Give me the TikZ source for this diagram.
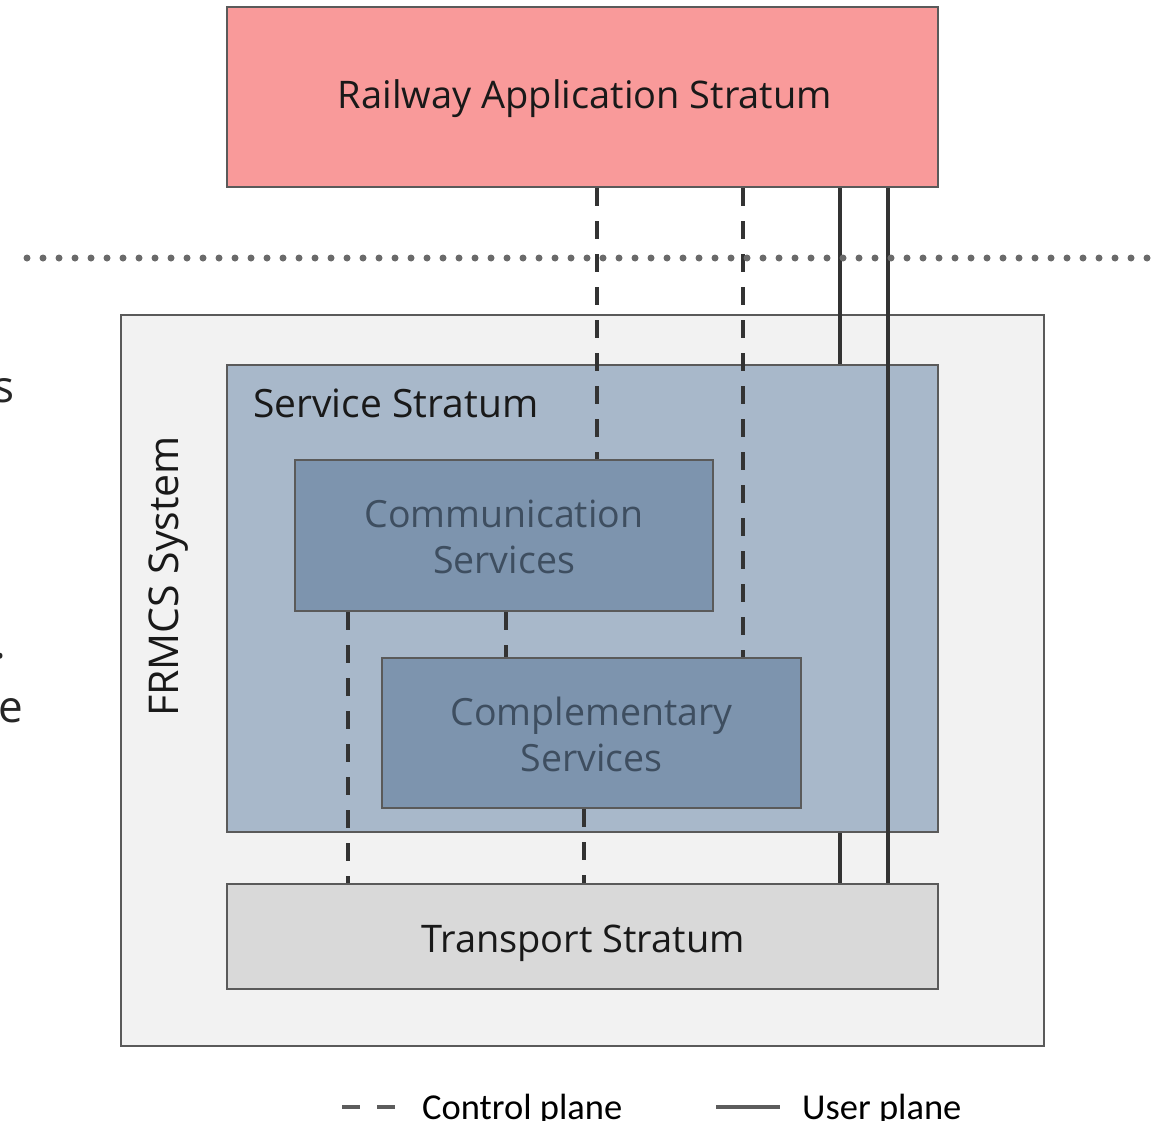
\documentclass[tikz,border=0pt]{standalone}
\usepackage{fontspec}
\setmainfont{Open Sans}
\newfontfamily\legendfont{Carlito}
\definecolor{railpink}{HTML}{F99A9A}
\definecolor{outerbg}{HTML}{F2F2F2}
\definecolor{servbg}{HTML}{A8B8CA}
\definecolor{innerbg}{HTML}{7D94AE}
\definecolor{innertext}{HTML}{3E4E60}
\definecolor{transbg}{HTML}{D9D9D9}
\definecolor{bordergray}{HTML}{5A5A5A}
\definecolor{linegray}{HTML}{333333}
\definecolor{dotgray}{HTML}{6A6A6A}
\begin{document}
\begin{tikzpicture}[x=1pt,y=-1pt,
  box/.style={draw=bordergray, line width=2.2pt, rectangle, inner sep=0pt},
  lbl/.style={font=\fontsize{38}{44}\selectfont, text=black!90, inner sep=0pt},
  innerlbl/.style={font=\fontsize{37.5}{44}\selectfont, text=innertext, inner sep=0pt, anchor=base},
  ctrl/.style={draw=linegray, line width=3.8pt, dash pattern=on 18pt off 15pt},
  userl/.style={draw=linegray, line width=3.4pt},
  dotline/.style={draw=dotgray, line width=7pt, line cap=round, dash pattern=on 0pt off 16pt},
  legend/.style={font=\legendfont\fontsize{36.5}{40}\selectfont, text=black, inner sep=0pt},
  frag/.style={font=\fontsize{44}{48}\selectfont, text=black!85, anchor=base east, inner sep=0pt}]
\useasboundingbox (0,0) rectangle (1156,1121);
% boxes
\node[box, fill=railpink, minimum width=711pt, minimum height=180pt] (rail) at (582.5,97) {};
\node[box, fill=outerbg, minimum width=923pt, minimum height=731pt] (frmcs) at (582.5,680.5) {};
\node[box, fill=servbg, minimum width=711pt, minimum height=467pt] (serv) at (582.5,598.5) {};
\node[box, fill=innerbg, minimum width=418pt, minimum height=151pt] (comm) at (504,535.5) {};
\node[box, fill=innerbg, minimum width=419pt, minimum height=150pt] (compl) at (591.5,733) {};
\node[box, fill=transbg, minimum width=711pt, minimum height=105pt] (trans) at (582.5,936.5) {};
% labels
\node[lbl, anchor=base] (raillbl) at (585,109) {Railway Application Stratum};
\node[lbl, anchor=base west, font=\fontsize{39}{44}\selectfont] (servlbl) at (253,417) {Service Stratum};
\node[innerlbl] (commlbl1) at (504,527) {Communication};
\node[innerlbl] (commlbl2) at (504,573) {Services};
\node[innerlbl] (compllbl1) at (591.5,725) {Complementary};
\node[innerlbl] (compllbl2) at (591.5,771) {Services};
\node[lbl, anchor=base] (translbl) at (583,952) {Transport Stratum};
\node[lbl, anchor=base, rotate=90, font=\fontsize{41}{44}\selectfont] (frmcslbl) at (178,576.5) {FRMCS System};
% x positions of connectors
\coordinate (xa) at (597,0);
\coordinate (xb) at (743,0);
\coordinate (xc) at (348,0);
\coordinate (xd) at (506,0);
\coordinate (xe) at (584,0);
\coordinate (xf) at (840,0);
\coordinate (xg) at (888,0);
% control plane
\draw[ctrl] (rail.south -| xa) -- (comm.north -| xa);
\draw[ctrl] (rail.south -| xb) -- (compl.north -| xb);
\draw[ctrl] (comm.south -| xc) -- (trans.north -| xc);
\draw[ctrl] (comm.south -| xd) -- (compl.north -| xd);
\draw[ctrl] (compl.south -| xe) -- (trans.north -| xe);
% user plane
\draw[userl] (rail.south -| xf) -- (serv.north -| xf);
\draw[userl] (serv.south -| xf) -- (trans.north -| xf);
\draw[userl] (rail.south -| xg) -- (trans.north -| xg);
% dotted separator
\coordinate (dl) at (27,258);
\coordinate (dr) at (1148,258);
\draw[dotline] (dl) -- (dr);
% cut-off text on the left
\node[frag] (fs) at (15,402) {s};
\node[frag] (fdot) at (6,658) {.};
\node[frag] (fe) at (23,722) {e};
% legend
\coordinate (c1a) at (342,1107); \coordinate (c1b) at (360,1107);
\coordinate (c2a) at (377,1107); \coordinate (c2b) at (395,1107);
\coordinate (u1a) at (716,1107); \coordinate (u1b) at (780,1107);
\draw[draw=linegray!80, line width=4pt] (c1a) -- (c1b);
\draw[draw=linegray!80, line width=4pt] (c2a) -- (c2b);
\draw[draw=linegray!80, line width=3.6pt] (u1a) -- (u1b);
\node[legend, anchor=base west] (ctrltxt) at (422,1119) {Control plane};
\node[legend, anchor=base west] (usertxt) at (802,1119) {User plane};
\end{tikzpicture}
\end{document}
